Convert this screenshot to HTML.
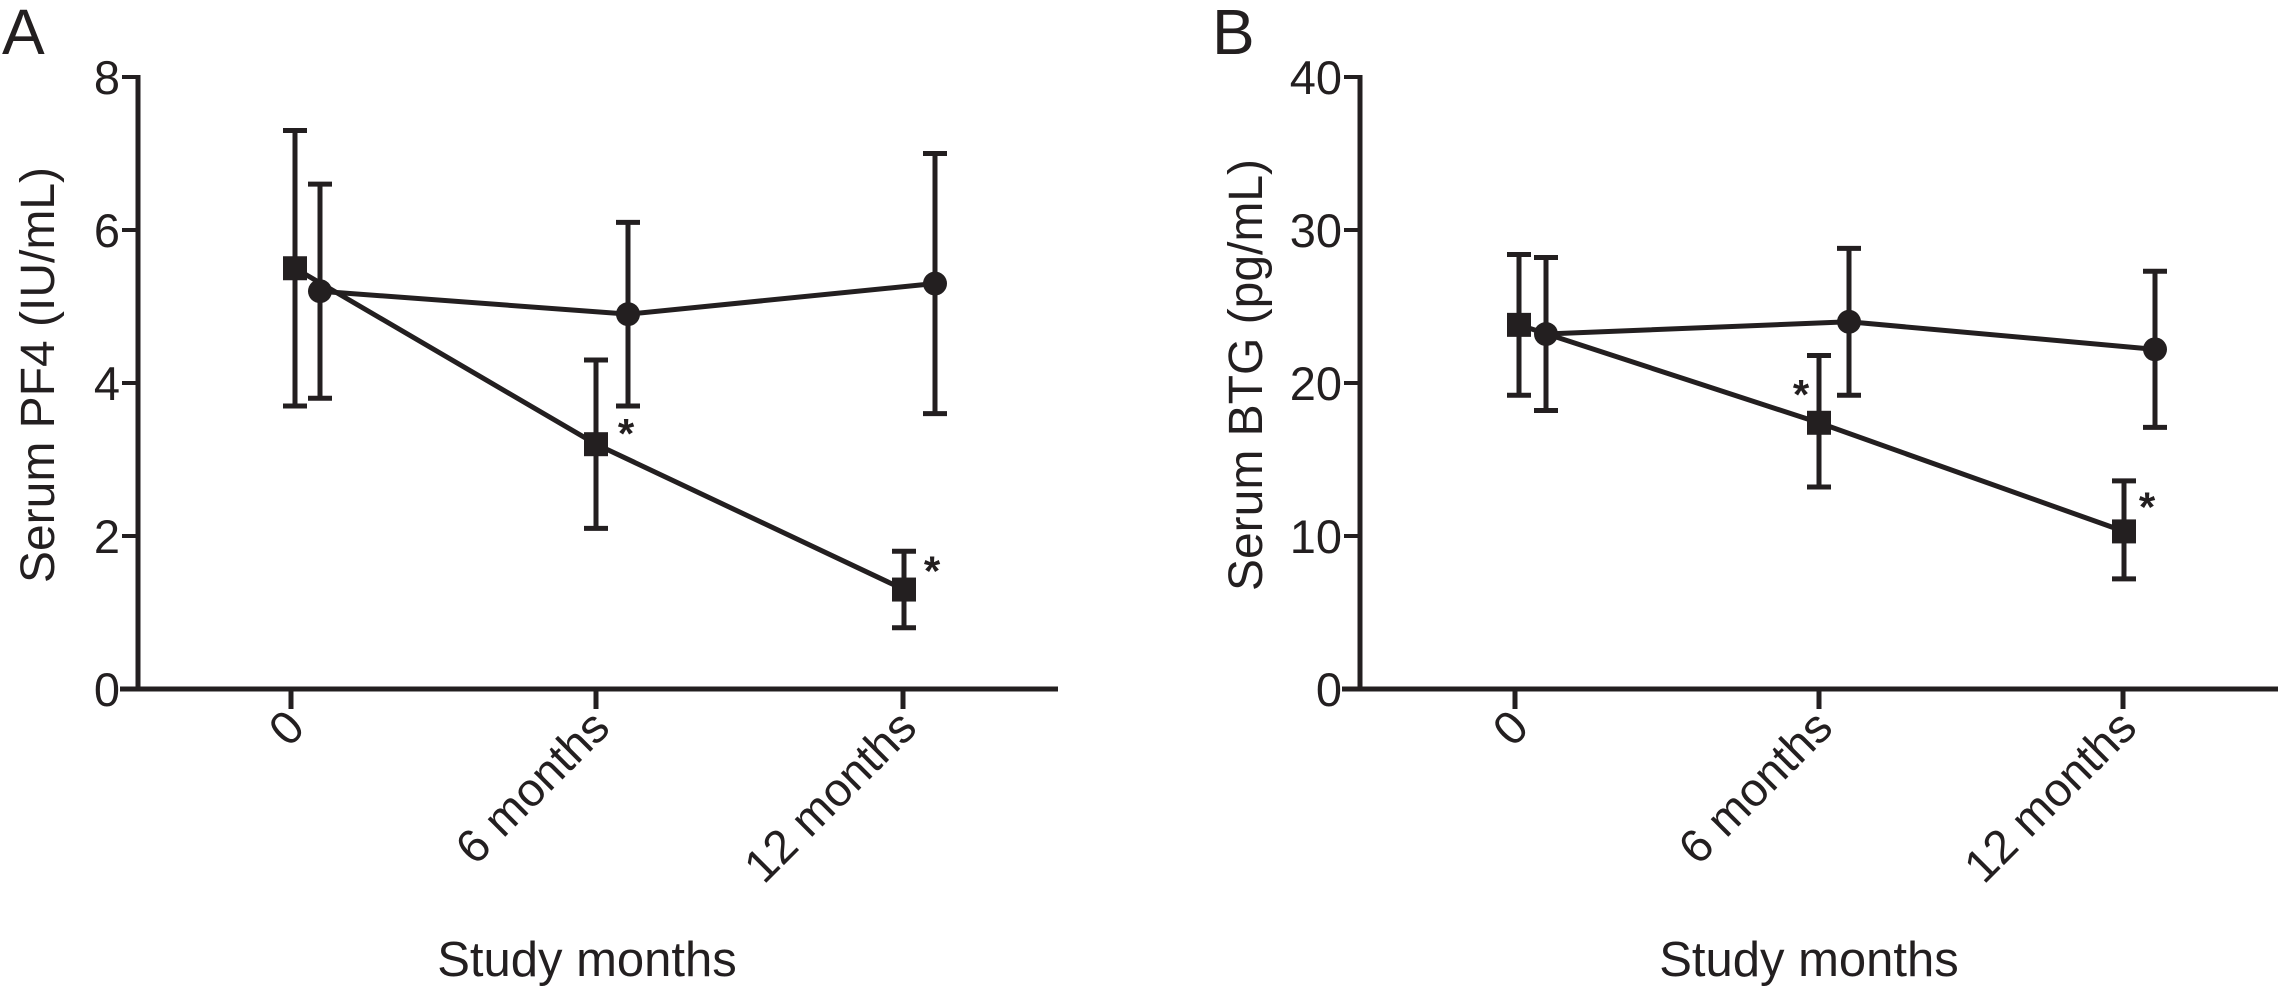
<!DOCTYPE html>
<html><head><meta charset="utf-8"><style>
html,body{margin:0;padding:0;background:#fff}
svg text{font-family:"Liberation Sans",sans-serif;fill:#231f20}
</style></head><body>
<svg id="fig" width="2281" height="986" viewBox="0 0 2281 986"></svg>
<script>
const categories = ["0", "6 months", "12 months"];
const pf4CircleMean = [5.2, 4.9, 5.3];
const pf4CircleLow = [3.8, 3.7, 3.6];
const pf4CircleHigh = [6.6, 6.1, 7.0];
const pf4SquareMean = [5.5, 3.2, 1.3];
const pf4SquareLow = [3.7, 2.1, 0.8];
const pf4SquareHigh = [7.3, 4.3, 1.8];
const pf4Stars = [false, true, true];
const pf4Ticks = [0, 2, 4, 6, 8];
const btgCircleMean = [23.2, 24.0, 22.2];
const btgCircleLow = [18.2, 19.2, 17.1];
const btgCircleHigh = [28.2, 28.8, 27.3];
const btgSquareMean = [23.8, 17.4, 10.3];
const btgSquareLow = [19.2, 13.2, 7.2];
const btgSquareHigh = [28.4, 21.8, 13.6];
const btgStars = [false, true, true];
const btgTicks = [0, 10, 20, 30, 40];

const NS = "http://www.w3.org/2000/svg";
const svg = document.getElementById("fig");
function el(tag, attrs, parent, text) {
  const e = document.createElementNS(NS, tag);
  for (const k in attrs) e.setAttribute(k, attrs[k]);
  if (text !== undefined) e.textContent = text;
  (parent || svg).appendChild(e);
  return e;
}

function panel(cfg) {
  const g = el("g", {});
  
  
  const yTop = 77, yBot = 689;
  const y = v => yBot - (v / cfg.max) * (yBot - yTop);
  const x = i => cfg.ticksX[i];
  const stroke = "#231f20";
  const L = el("text", {x: cfg.letterX, y: 54, "font-size": 64}, g, cfg.letter);
  
  
  const ya = el("line", {x1: cfg.axisX, y1: yTop - 2, x2: cfg.axisX, y2: yBot + 2, stroke, "stroke-width": 5}, g);
  
  
  const xa = el("line", {x1: cfg.axisX - 18, y1: yBot, x2: cfg.xEnd, y2: yBot, stroke, "stroke-width": 5}, g);
  
  
  cfg.ticks.forEach(t => {
    el("line", {x1: cfg.axisX - 16, y1: y(t), x2: cfg.axisX, y2: y(t), stroke, "stroke-width": 4}, g);
    const tl = el("text", {x: cfg.axisX - 18, y: y(t) + 17, "font-size": 47, "text-anchor": "end"}, g, String(t));
    
    
  });
  categories.forEach((c, i) => {
    el("line", {x1: x(i), y1: yBot, x2: x(i), y2: yBot + 20, stroke, "stroke-width": 5}, g);
    const tl = el("text", {x: x(i) + 16, y: 730, "font-size": 47, "text-anchor": "end", transform: `rotate(-45 ${x(i) + 16} 730)`}, g, c);
    
    
  });
  const yt = el("text", {x: 0, y: 0, "font-size": 48, "text-anchor": "middle", transform: `translate(${cfg.titleX},${(yTop + yBot) / 2 - 8}) rotate(-90)`}, g, cfg.yTitle);
  
  
  const xt = el("text", {x: (x(0) + x(2)) / 2 - 10, y: 976, "font-size": 49, "text-anchor": "middle"}, g, "Study months");
  
  

  function series(mean, lo, hi, off, shape, name) {
    const sg = el("g", {}, g);
    
    
    const pts = mean.map((v, i) => `${x(i) + off[i]},${y(v)}`).join(" ");
    el("polyline", {points: pts, fill: "none", stroke, "stroke-width": 5}, sg);
    mean.forEach((v, i) => {
      const cx = x(i) + off[i];
      const eb = el("path", {d: `M${cx},${y(lo[i])}V${y(hi[i])}M${cx - 12},${y(lo[i])}H${cx + 12}M${cx - 12},${y(hi[i])}H${cx + 12}`, stroke, "stroke-width": 5, fill: "none"}, sg);
      
      
      let m;
      if (shape === "circle") m = el("circle", {cx, cy: y(v), r: 12, fill: stroke}, sg);
      else m = el("rect", {x: cx - 12, y: y(v) - 12, width: 24, height: 24, fill: stroke}, sg);
      
      
    });
  }
  series(cfg.sq.mean, cfg.sq.lo, cfg.sq.hi, [4, 0, 1], "square", "square-series");
  series(cfg.ci.mean, cfg.ci.lo, cfg.ci.hi, cfg.ciOff, "circle", "circle-series");
  cfg.stars.forEach((s, i) => {
    if (!s) return;
    const o = cfg.starOff[i];
    const st = el("text", {x: x(i) + o[0], y: y(cfg.sq.mean[i]) + o[1] + 16, "font-size": 42, "font-weight": "bold", "text-anchor": "middle"}, g, "*");
    
    
  });
}

panel({name: "panel-a-pf4", letter: "A", letterX: 2, axisX: 138, xEnd: 1058, ticksX: [291, 596, 903], max: 8,
  ticks: pf4Ticks, yTitle: "Serum PF4 (IU/mL)", titleX: 54, ciOff: [29, 32, 32],
  sq: {mean: pf4SquareMean, lo: pf4SquareLow, hi: pf4SquareHigh},
  ci: {mean: pf4CircleMean, lo: pf4CircleLow, hi: pf4CircleHigh},
  stars: pf4Stars, starOff: [[0, 0], [30, -12], [29, -20]]});
panel({name: "panel-b-btg", letter: "B", letterX: 1212, axisX: 1360, xEnd: 2278, ticksX: [1515, 1819, 2123], max: 40,
  ticks: btgTicks, yTitle: "Serum BTG (pg/mL)", titleX: 1262, ciOff: [31, 30, 32],
  sq: {mean: btgSquareMean, lo: btgSquareLow, hi: btgSquareHigh},
  ci: {mean: btgCircleMean, lo: btgCircleLow, hi: btgCircleHigh},
  stars: btgStars, starOff: [[0, 0], [-18, -30], [24, -26]]});
</script>
</body></html>
